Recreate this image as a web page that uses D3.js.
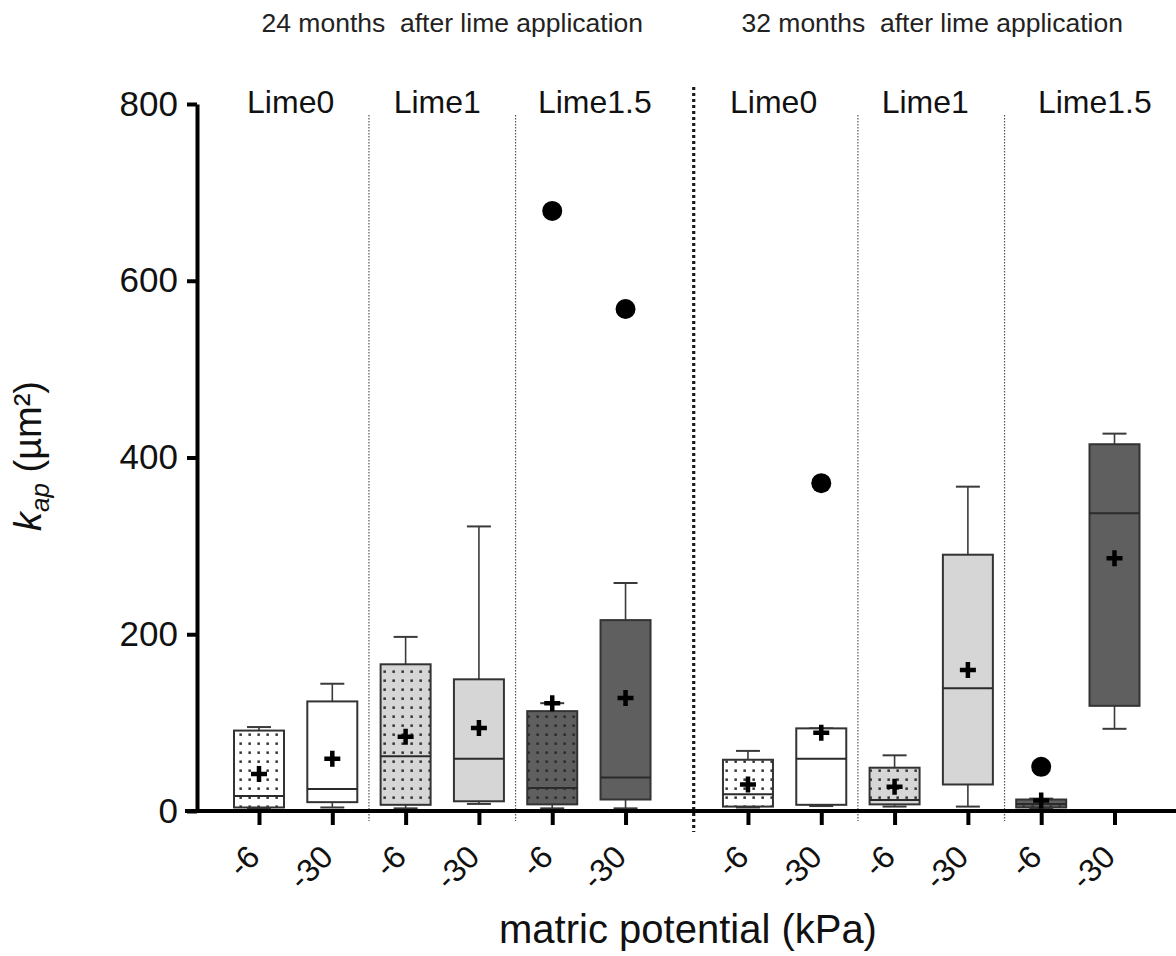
<!DOCTYPE html>
<html><head><meta charset="utf-8">
<script src="https://cdn.jsdelivr.net/npm/d3@7"></script>
<style>
body{margin:0;background:#fff;}
svg{display:block;font-family:"Liberation Sans", Arial, sans-serif;}
</style></head><body>
<svg id="chart" width="1176" height="956"></svg>
<script>
// ---------------- data ----------------
const periods = ["24 months  after lime application", "32 months  after lime application"];
const limeLevels = ["Lime0", "Lime1", "Lime1.5"];
const potentials = ["-6", "-30"];
// box statistics, order: period -> lime level -> potential
const whiskerLow  = [3, 4, 3, 8, 3, 3,    4, 5.6, 5, 5, 3, 93];
const q1          = [4, 10, 7, 11, 7.5, 13,   5, 7, 7.5, 30, 4, 119];
const median      = [17, 25, 62, 59, 26, 38,  19, 59, 12.4, 139, 8, 337];
const q3          = [91, 124, 166, 149, 113, 216,  58, 93.5, 49, 290, 13, 415];
const whiskerHigh = [95, 144, 197, 322, 122, 258,  68, 93.5, 63, 367, 14, 427];
const means       = [42, 59, 84, 94, 122, 128,  30, 88.6, 27.5, 159.5, 12, 286];
const outliers    = [[], [], [], [], [679], [568],  [], [371], [], [], [50], []];
const yTicks = [0, 200, 400, 600, 800];
const yLabel = "k";
const xLabel = "matric potential (kPa)";

// ---------------- layout ----------------
const svg = d3.select("#chart");
const W = 1176, H = 956;
const periodGap = 0.67;
const boxes = [];
periods.forEach((p, pi) => limeLevels.forEach((l, li) => potentials.forEach((m, mi) => {
  const i = boxes.length;
  boxes.push({pi, li, mi, lime: l, pot: m,
    pos: pi * 6 + li * 2 + mi + pi * periodGap,
    lo: whiskerLow[i], q1: q1[i], med: median[i], q3: q3[i], hi: whiskerHigh[i],
    mean: means[i], out: outliers[i]});
})));

const x = d3.scaleLinear().domain([0, 11 + periodGap]).range([259, 1114.5]);
const y = d3.scaleLinear().domain([0, 800]).range([811, 104]);
const axisX = 197;
const boxW = 50, capW = 24;

const fills = ["#ffffff", "#d6d6d6", "#5f5f5f"];
const dotCol = ["#333", "#333", "#2a2a2a"];

// patterns
const defs = svg.append("defs");
fills.forEach((f, i) => {
  const pat = defs.append("pattern").attr("id", "dots" + i)
    .attr("patternUnits", "userSpaceOnUse").attr("width", 9).attr("height", 9)
    .attr("x", 2).attr("y", 1);
  pat.append("rect").attr("width", 9).attr("height", 9).attr("fill", f);
  pat.append("rect").attr("x", 3.4).attr("y", 3.4).attr("width", 2.5).attr("height", 2.5).attr("fill", dotCol[i]);
});

// separators
const thinSeps = [];
periods.forEach((p, pi) => [1, 2].forEach(k => thinSeps.push(pi * 6 + k * 2 - 0.5 + pi * periodGap)));
svg.selectAll("line.thinsep").data(thinSeps).join("line").attr("class", "thinsep")
  .attr("x1", d => x(d)).attr("x2", d => x(d)).attr("y1", 115).attr("y2", 821)
  .attr("stroke", "#555").attr("stroke-width", 1.2).attr("stroke-dasharray", "1.5,1.5");
const bigSep = 5.93;
svg.append("line").attr("x1", x(bigSep)).attr("x2", x(bigSep)).attr("y1", 87).attr("y2", 832)
  .attr("stroke", "#1a1a1a").attr("stroke-width", 3.2).attr("stroke-dasharray", "3,3");

// period titles
const titleDx = [10, 1];
periods.forEach((p, pi) => {
  const c = (x(pi * 6 + pi * periodGap) + x(pi * 6 + 5 + pi * periodGap)) / 2;
  svg.append("text").attr("x", c + titleDx[pi]).attr("y", 32).attr("text-anchor", "middle")
    .style("white-space", "pre").attr("font-size", 26.5).attr("fill", "#222").text(p);
});
// lime labels
const labelDx = [-5, -5, 6, -11, -6, 17];
periods.forEach((p, pi) => limeLevels.forEach((l, li) => {
  const c = x(pi * 6 + li * 2 + 0.5 + pi * periodGap);
  svg.append("text").attr("x", c + labelDx[pi * 3 + li]).attr("y", 113).attr("text-anchor", "middle")
    .attr("font-size", 32).attr("fill", "#111").text(l);
}));

// boxes
const g = svg.append("g");
const bx = g.selectAll("g.box").data(boxes).join("g").attr("class", "box");
// whiskers
bx.append("line").attr("x1", d => x(d.pos)).attr("x2", d => x(d.pos))
  .attr("y1", d => y(d.hi)).attr("y2", d => y(d.q3)).attr("stroke", "#3a3a3a").attr("stroke-width", 1.6);
bx.append("line").attr("x1", d => x(d.pos)).attr("x2", d => x(d.pos))
  .attr("y1", d => y(d.lo)).attr("y2", d => y(d.q1)).attr("stroke", "#3a3a3a").attr("stroke-width", 1.6);
bx.append("line").attr("x1", d => x(d.pos) - capW / 2).attr("x2", d => x(d.pos) + capW / 2)
  .attr("y1", d => y(d.hi)).attr("y2", d => y(d.hi)).attr("stroke", "#3a3a3a").attr("stroke-width", 2);
bx.append("line").attr("x1", d => x(d.pos) - capW / 2).attr("x2", d => x(d.pos) + capW / 2)
  .attr("y1", d => y(d.lo)).attr("y2", d => y(d.lo)).attr("stroke", "#3a3a3a").attr("stroke-width", 2);
// box body
bx.append("rect").attr("x", d => x(d.pos) - boxW / 2).attr("width", boxW)
  .attr("y", d => y(d.q3)).attr("height", d => y(d.q1) - y(d.q3))
  .attr("fill", d => d.mi === 0 ? `url(#dots${d.li})` : fills[d.li])
  .attr("stroke", "#333").attr("stroke-width", 2);
// median
bx.append("line").attr("x1", d => x(d.pos) - boxW / 2).attr("x2", d => x(d.pos) + boxW / 2)
  .attr("y1", d => y(d.med)).attr("y2", d => y(d.med)).attr("stroke", "#2a2a2a").attr("stroke-width", 2);
// mean plus
const ps = 8;
bx.append("path").attr("d", d => {
  const cx = x(d.pos), cy = y(d.mean);
  return `M${cx - ps},${cy}H${cx + ps}M${cx},${cy - ps}V${cy + ps}`;
}).attr("stroke", "#000").attr("stroke-width", 4.5).attr("fill", "none");
// outliers
bx.selectAll("circle").data(d => d.out.map(v => ({pos: d.pos, v}))).join("circle")
  .attr("cx", d => x(d.pos)).attr("cy", d => y(d.v)).attr("r", 10).attr("fill", "#000");

// y axis
const yAxis = svg.append("g").attr("transform", `translate(${axisX},0)`)
  .call(d3.axisLeft(y).tickValues(yTicks).tickSize(10).tickPadding(9).tickSizeOuter(0));
yAxis.attr("font-size", 35).attr("font-family", "'Liberation Sans', Arial, sans-serif");
yAxis.select(".domain").attr("stroke", "#000").attr("stroke-width", 4);
yAxis.selectAll(".tick line").attr("stroke", "#000").attr("stroke-width", 4);
yAxis.selectAll(".tick text").attr("fill", "#111");

// x axis
const xAxis = svg.append("g").attr("transform", `translate(0,${y(0)})`)
  .call(d3.axisBottom(x).tickValues(boxes.map(d => d.pos)).tickFormat((d, i) => boxes[i].pot)
    .tickSize(14).tickSizeOuter(0));
xAxis.attr("font-size", 32).attr("font-family", "'Liberation Sans', Arial, sans-serif");
xAxis.select(".domain").remove();
xAxis.append("line").attr("x1", axisX - 12).attr("x2", W).attr("y1", 0).attr("y2", 0)
  .attr("stroke", "#000").attr("stroke-width", 4);
xAxis.selectAll(".tick line").attr("stroke", "#000").attr("stroke-width", 4);
xAxis.selectAll(".tick text").attr("fill", "#111")
  .attr("text-anchor", "end").attr("x", null).attr("y", null).attr("dy", null)
  .attr("transform", "translate(2,48) rotate(-45)");

// axis titles
svg.append("text").attr("x", 688).attr("y", 943).attr("text-anchor", "middle")
  .attr("font-size", 40).attr("fill", "#111").text(xLabel);
const yl = svg.append("text").attr("transform", "translate(41,456) rotate(-90)")
  .attr("text-anchor", "middle").attr("font-size", 38).attr("fill", "#111");
yl.append("tspan").attr("font-style", "italic").text(yLabel);
yl.append("tspan").attr("font-style", "italic").attr("font-size", 26).attr("dy", 8).text("ap");
yl.append("tspan").attr("dy", -8).text(" (µm²)");
</script>
</body></html>
